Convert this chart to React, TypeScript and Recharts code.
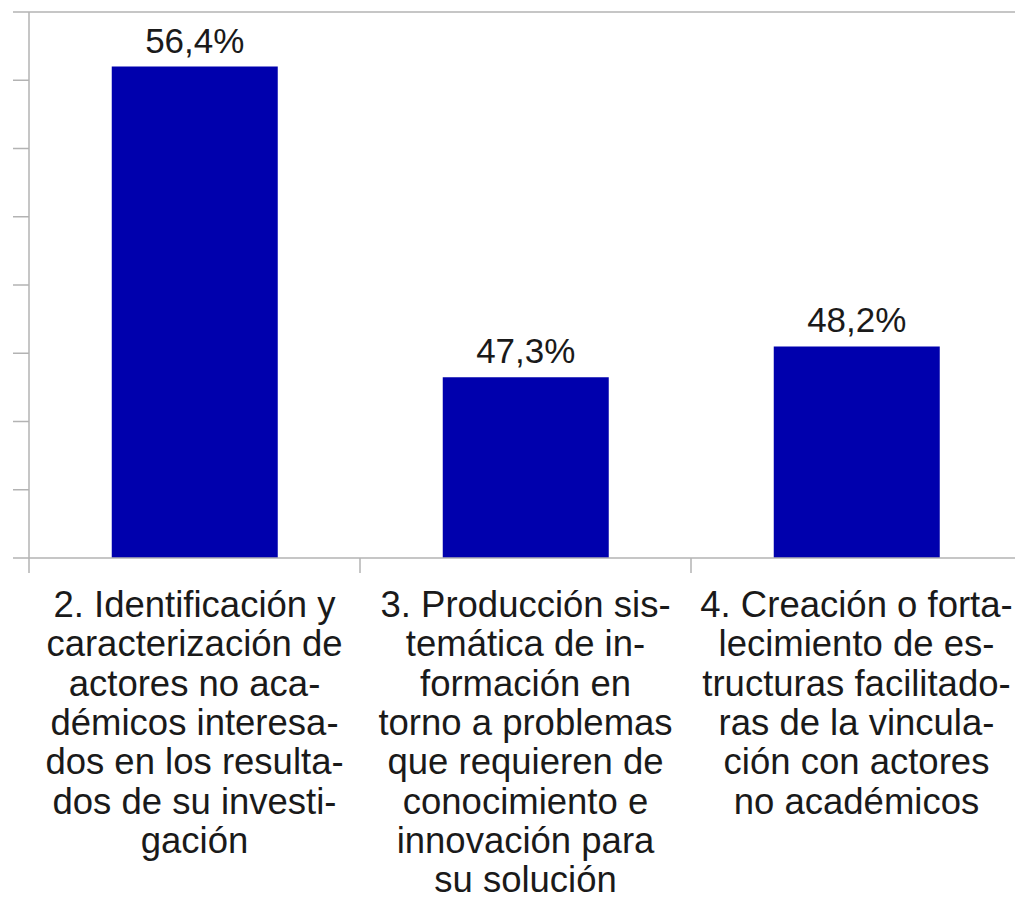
import { Bar, BarChart, LabelList, ReferenceLine, XAxis, YAxis } from "recharts"

const categories = ["2", "3", "4"]
const values = [56.4, 47.3, 48.2]

// category labels, already broken into lines as in the original
const tickLines: string[][] = [
  [
    "2. Identificación y",
    "caracterización de",
    "actores no aca-",
    "démicos interesa-",
    "dos en los resulta-",
    "dos de su investi-",
    "gación",
  ],
  [
    "3. Producción sis-",
    "temática de in-",
    "formación en",
    "torno a problemas",
    "que requieren de",
    "conocimiento e",
    "innovación para",
    "su solución",
  ],
  [
    "4. Creación o forta-",
    "lecimiento de es-",
    "tructuras facilitado-",
    "ras de la vincula-",
    "ción con actores",
    "no académicos",
  ],
]

const yTicks = [42, 44, 46, 48, 50, 52, 54, 56, 58]

const CHART_W = 1022
const CHART_H = 903
const Y_AXIS_W = 29
const GRID = "#b3b3b3"
const FONT = "'Liberation Sans', Arial, sans-serif"

const data = categories.map((c, i) => ({ key: c, value: values[i] }))
const band = (CHART_W - Y_AXIS_W) / categories.length

function CategoryTick(props: any) {
  const { x, y, index } = props
  const lines = tickLines[index] ?? []
  return (
    <g>
      <line x1={x - band / 2} x2={x - band / 2} y1={y} y2={y + 15} stroke={GRID} strokeWidth={1.5} />
      <text x={x} y={y + 59} textAnchor="middle" fontSize={36.5} fontFamily={FONT} fill="#1a1a1a">
        {lines.map((l, i) => (
          <tspan key={i} x={x} dy={i === 0 ? 0 : 39.3}>
            {l}
          </tspan>
        ))}
      </text>
    </g>
  )
}

export default function App() {
  return (
    <div style={{ position: "absolute", left: 0, top: 0, width: 1015, height: CHART_H, overflow: "hidden", background: "#fff" }}>
      <BarChart
        width={CHART_W}
        height={CHART_H}
        data={data}
        margin={{ top: 12, right: 0, left: 0, bottom: 0 }}
        barCategoryGap="25%"
      >
        <ReferenceLine y={58} stroke={GRID} strokeWidth={1.5} />
        <XAxis
          dataKey="key"
          height={345}
          interval={0}
          tickLine={false}
          tickSize={0}
          tickMargin={0}
          axisLine={{ stroke: GRID, strokeWidth: 1.5 }}
          tick={<CategoryTick />}
        />
        <YAxis
          width={Y_AXIS_W}
          domain={[42, 58]}
          ticks={yTicks}
          allowDataOverflow
          tickSize={16}
          tickLine={{ stroke: GRID, strokeWidth: 1.5 }}
          axisLine={{ stroke: GRID, strokeWidth: 1.5 }}
          tickFormatter={() => ""}
        />
        <Bar dataKey="value" fill="#0000ad" isAnimationActive={false}>
          <LabelList
            dataKey="value"
            position="top"
            offset={14}
            fontSize={35}
            fontFamily={FONT}
            fill="#1a1a1a"
            formatter={(v: any) => Number(v).toFixed(1).replace(".", ",") + "%"}
          />
        </Bar>
      </BarChart>
    </div>
  )
}
